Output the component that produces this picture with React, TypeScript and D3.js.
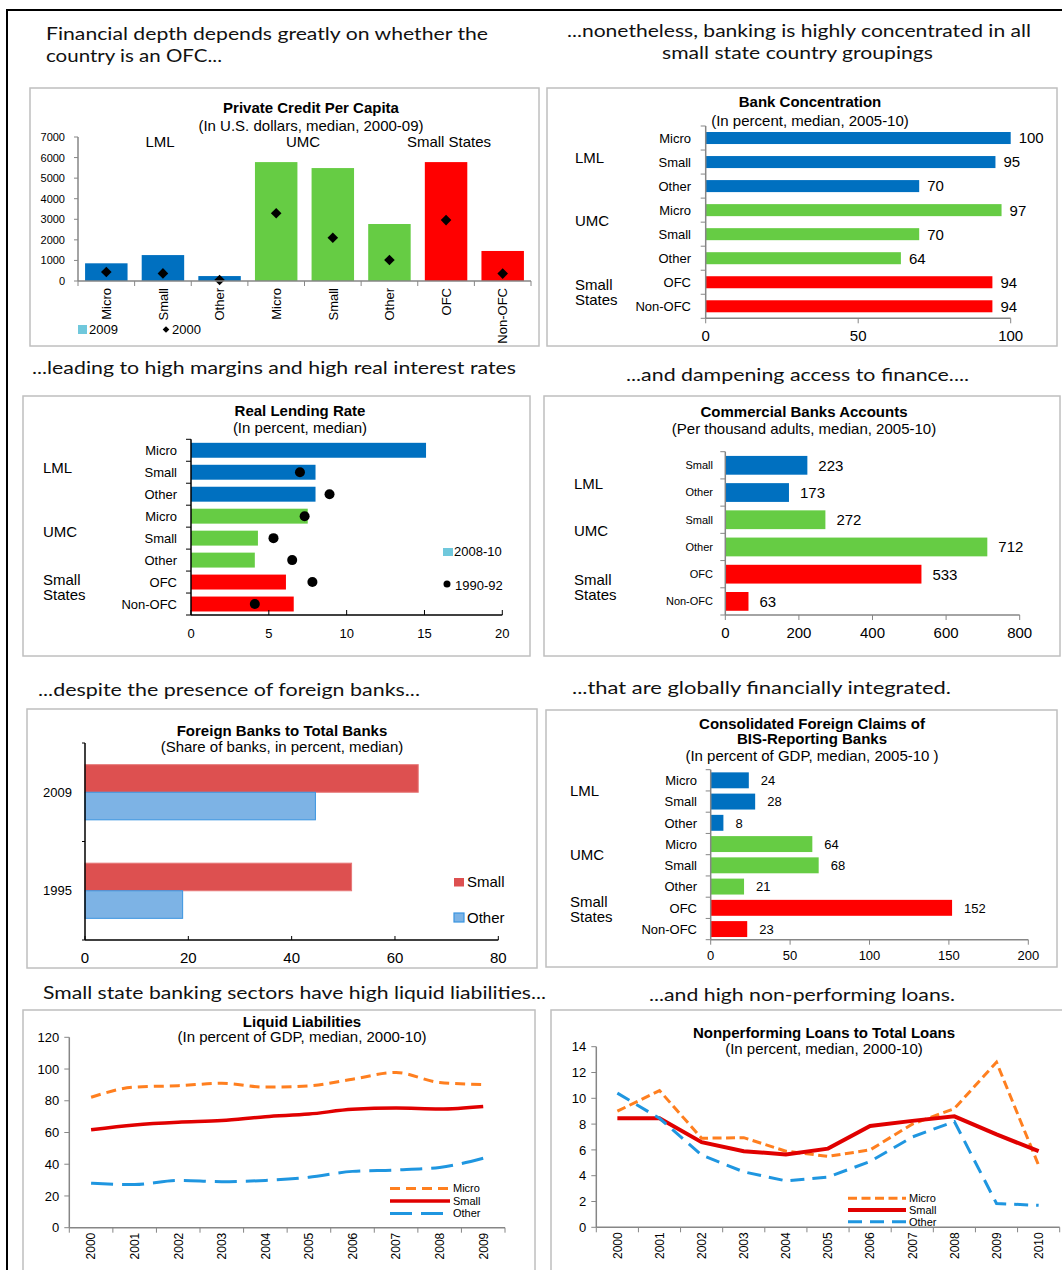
import React from 'react';
import * as d3 from 'd3';

const BLUE = '#0070C0';
const GREEN = '#66CC44';
const RED = '#FF0000';
const FONT = 'Liberation Sans, Arial, Helvetica, sans-serif';
const HEAD = 'Lato, Calibri, sans-serif';

// group colours, 8 bar layouts
const groupColors8 = [BLUE, BLUE, BLUE, GREEN, GREEN, GREEN, RED, RED];
const groupColors6 = [BLUE, BLUE, GREEN, GREEN, RED, RED];
const cats8 = ['Micro', 'Small', 'Other', 'Micro', 'Small', 'Other', 'OFC', 'Non-OFC'];

// Private credit per capita
const credit2009 = [860, 1260, 240, 5780, 5490, 2770, 5780, 1460];
const credit2000 = [440, 370, 50, 3290, 2100, 1020, 2960, 360];
const creditTicks = [0, 1000, 2000, 3000, 4000, 5000, 6000, 7000];

// Bank concentration
const concValues = [100, 95, 70, 97, 70, 64, 94, 94];
const concTicks = [0, 50, 100];

// Real lending rate
const rate0810 = [15.1, 8.0, 8.0, 7.5, 4.3, 4.1, 6.1, 6.6];
const rate9092 = [null, 7.0, 8.9, 7.3, 5.3, 6.5, 7.8, 4.1];
const rateTicks = [0, 5, 10, 15, 20];

// Commercial bank accounts
const acctCats = ['Small', 'Other', 'Small', 'Other', 'OFC', 'Non-OFC'];
const acctValues = [223, 173, 272, 712, 533, 63];
const acctTicks = [0, 200, 400, 600, 800];

// Foreign banks
const fbYears = ['2009', '1995'];
const fbSmall = [64.5, 51.6];
const fbOther = [44.6, 18.9];
const fbTicks = [0, 20, 40, 60, 80];

// Consolidated foreign claims
const claimValues = [24, 28, 8, 64, 68, 21, 152, 23];
const claimTicks = [0, 50, 100, 150, 200];

// Liquid liabilities
const liqYears = ['2000', '2001', '2002', '2003', '2004', '2005', '2006', '2007', '2008', '2009'];
const liqMicro = [82.2, 88.6, 89.5, 91.0, 88.6, 89.4, 93.6, 97.8, 91.5, 90.3];
const liqSmall = [61.8, 64.8, 66.5, 67.5, 70.0, 71.6, 74.6, 75.4, 74.8, 76.4];
const liqOther = [28.0, 27.2, 29.8, 29.0, 29.8, 31.8, 35.5, 36.4, 38.0, 43.8];
const liqTicks = [0, 20, 40, 60, 80, 100, 120];

// Nonperforming loans
const npYears = ['2000', '2001', '2002', '2003', '2004', '2005', '2006', '2007', '2008', '2009', '2010'];
const npMicro = [9.0, 10.6, 6.9, 6.95, 5.9, 5.5, 6.0, 8.0, 9.2, 12.8, 4.8];
const npSmall = [8.45, 8.45, 6.6, 5.9, 5.65, 6.1, 7.85, 8.25, 8.6, 7.2, 5.9];
const npOther = [10.4, 8.45, 5.6, 4.3, 3.6, 3.9, 5.1, 7.0, 8.2, 1.85, 1.7];
const npTicks = [0, 2, 4, 6, 8, 10, 12, 14];

const Panel = ({ x, y, w, h }) => (
  <rect x={x} y={y} width={w} height={h} fill="#fff" stroke="#BFBFBF" strokeWidth={1.5} />
);

const Heading = ({ x, y, w, text, anchor = 'start' }) => (
  <text x={x} y={y} fontFamily={HEAD} fontSize={18} fill="#111" textAnchor={anchor}
    textLength={w} lengthAdjust="spacingAndGlyphs">{text}</text>
);

const Title = ({ cx, lines, sub }) => (
  <g fontFamily={FONT} textAnchor="middle" fill="#000">
    {lines.map((l, i) => (
      <text key={i} x={cx} y={l.y} fontSize={15} fontWeight="bold">{l.t}</text>
    ))}
    <text x={cx} y={sub.y} fontSize={15}>{sub.t}</text>
  </g>
);

const Groups = ({ x, items, size = 15 }) => (
  <g fontFamily={FONT} fontSize={size} fill="#000">
    {items.map((g, i) => g.lines.map((l, j) => (
      <text key={i + '-' + j} x={x} y={g.y + j * 15}>{l}</text>
    )))}
  </g>
);

// generic horizontal bar chart
function HBars(p) {
  const x = d3.scaleLinear().domain([0, p.xMax]).range([p.x0, p.x1]);
  const n = p.cats.length;
  const y = d3.scaleBand().domain(d3.range(n)).range([p.y0, p.y1])
    .paddingInner(p.padding).paddingOuter(p.padding / 2);
  const step = y.step();
  return (
    <g fontFamily={FONT}>
      {p.values.map((v, i) => (
        <rect key={i} x={x(0)} y={y(i)} width={x(v) - x(0)} height={y.bandwidth()} fill={p.colors[i]} />
      ))}
      {p.dots && p.dots.map((v, i) => v == null ? null : (
        <circle key={'d' + i} cx={x(v)} cy={y(i) + y.bandwidth() / 2} r={5} fill="#000" />
      ))}
      {p.labels && p.values.map((v, i) => (
        <text key={'l' + i} x={x(v) + p.labelGap} y={y(i) + y.bandwidth() / 2} dy="0.36em"
          fontSize={p.labelSize}>{v}</text>
      ))}
      {p.cats.map((c, i) => (
        <text key={'c' + i} x={p.catX} y={y(i) + y.bandwidth() / 2} dy="0.36em"
          fontSize={p.catSize} textAnchor="end">{c}</text>
      ))}
      <line x1={x(0)} x2={x(0)} y1={p.y0} y2={p.y1} stroke={p.axisColor} strokeWidth={1.5} />
      {d3.range(n + 1).map(i => (
        <line key={'t' + i} x1={x(0) - 5} x2={x(0)} y1={p.y0 + i * step} y2={p.y0 + i * step}
          stroke={p.axisColor} />
      ))}
      <line x1={x(0)} x2={p.x1} y1={p.y1} y2={p.y1} stroke={p.axisColor} strokeWidth={1.5} />
      {p.xTicks.map(t => (
        <g key={'x' + t}>
          <line x1={x(t)} x2={x(t)} y1={p.y1} y2={p.y1 + p.tickDir * 5} stroke={p.axisColor} />
          <text x={x(t)} y={p.tickY} fontSize={p.tickSize} textAnchor="middle">{t}</text>
        </g>
      ))}
    </g>
  );
}

function CreditChart() {
  const x = d3.scaleBand().domain(d3.range(8)).range([78, 531]).paddingInner(0.25).paddingOuter(0.125);
  const y = d3.scaleLinear().domain([0, 7000]).range([281, 137]);
  const diamond = d3.symbol(d3.symbolSquare, 56)();
  const smallDiamond = d3.symbol(d3.symbolSquare, 22)();
  return (
    <g fontFamily={FONT}>
      <Title cx={311} lines={[{ t: 'Private Credit Per Capita', y: 113 }]} sub={{ t: '(In U.S. dollars, median, 2000-09)', y: 131 }} />
      <g fontSize={15}>
        <text x={160} y={147} textAnchor="middle">LML</text>
        <text x={303} y={147} textAnchor="middle">UMC</text>
        <text x={449} y={147} textAnchor="middle">Small States</text>
      </g>
      {credit2009.map((v, i) => (
        <rect key={i} x={x(i)} y={y(v)} width={x.bandwidth()} height={y(0) - y(v)} fill={groupColors8[i]} />
      ))}
      {credit2000.map((v, i) => (
        <path key={'m' + i} d={diamond}
          transform={`translate(${x(i) + x.bandwidth() / 2},${y(v)}) rotate(45)`} fill="#000" />
      ))}
      <line x1={78} x2={78} y1={y(7000)} y2={y(0)} stroke="#868686" strokeWidth={1.5} />
      {creditTicks.map(t => (
        <g key={t}>
          <line x1={74} x2={78} y1={y(t)} y2={y(t)} stroke="#868686" />
          <text x={65} y={y(t)} dy="0.36em" fontSize={11} textAnchor="end">{t}</text>
        </g>
      ))}
      <line x1={78} x2={531} y1={y(0)} y2={y(0)} stroke="#868686" strokeWidth={1.5} />
      {d3.range(9).map(i => (
        <line key={'xt' + i} x1={78 + i * x.step()} x2={78 + i * x.step()} y1={y(0)} y2={y(0) + 5} stroke="#868686" />
      ))}
      {cats8.map((c, i) => (
        <text key={'c' + i} transform={`translate(${x(i) + x.bandwidth() / 2},288) rotate(-90)`}
          textAnchor="end" dy="0.36em" fontSize={13}>{c}</text>
      ))}
      <rect x={78} y={325} width={9} height={9} fill="#70C8DC" />
      <text x={89} y={334} fontSize={13}>2009</text>
      <path d={smallDiamond} transform="translate(166,329.5) rotate(45)" fill="#000" />
      <text x={172} y={334} fontSize={13}>2000</text>
    </g>
  );
}

function LineChart(p) {
  const x = d3.scalePoint().domain(p.years).range([p.x0, p.x1]).padding(0.5);
  const y = d3.scaleLinear().domain([0, p.yMax]).range([p.y0, p.y1]);
  const line = d3.line().x((d, i) => x(p.years[i])).y(d => y(d)).curve(p.curve);
  const step = x.step();
  return (
    <g fontFamily={FONT}>
      <line x1={p.x0} x2={p.x0} y1={p.y1} y2={p.y0} stroke="#868686" strokeWidth={1.5} />
      {p.ticks.map(t => (
        <g key={t}>
          <line x1={p.x0 - 5} x2={p.x0} y1={y(t)} y2={y(t)} stroke="#868686" />
          <text x={p.x0 - 10} y={y(t)} dy="0.36em" fontSize={13} textAnchor="end">{t}</text>
        </g>
      ))}
      <line x1={p.x0} x2={p.x1} y1={p.y0} y2={p.y0} stroke="#868686" strokeWidth={1.5} />
      {d3.range(p.years.length + 1).map(i => (
        <line key={'xt' + i} x1={p.x0 + i * step} x2={p.x0 + i * step} y1={p.y0} y2={p.y0 + 5} stroke="#868686" />
      ))}
      {p.years.map(yr => (
        <text key={yr} transform={`translate(${x(yr)},${p.y0 + 5}) rotate(-90)`} textAnchor="end"
          dy="0.36em" fontSize={12}>{yr}</text>
      ))}
      {p.series.map((s, i) => (
        <path key={i} d={line(s.values)} fill="none" stroke={s.color} strokeWidth={s.width}
          strokeDasharray={s.dash} />
      ))}
      {p.series.map((s, i) => (
        <g key={'lg' + i}>
          <line x1={p.legX} x2={p.legX + p.legW} y1={p.legY + i * p.legStep} y2={p.legY + i * p.legStep}
            stroke={s.color} strokeWidth={s.width} strokeDasharray={s.dash} />
          <text x={p.legX + p.legW + 3} y={p.legY + i * p.legStep} dy="0.36em" fontSize={p.legSize}>{s.name}</text>
        </g>
      ))}
    </g>
  );
}

function ForeignChart() {
  const x = d3.scaleLinear().domain([0, 80]).range([85, 498.3]);
  const y = d3.scaleBand().domain(fbYears).range([743, 940]).paddingInner(0.44).paddingOuter(0.22);
  const sub = d3.scaleBand().domain(['Small', 'Other']).range([0, y.bandwidth()]);
  return (
    <g fontFamily={FONT}>
      <Title cx={282} lines={[{ t: 'Foreign Banks to Total Banks', y: 736 }]} sub={{ t: '(Share of banks, in percent, median)', y: 752 }} />
      {fbYears.map((yr, i) => (
        <g key={yr}>
          <rect x={x(0)} y={y(yr) + sub('Small')} width={x(fbSmall[i]) - x(0)} height={sub.bandwidth()}
            fill="#DD5050" stroke="#E67878" strokeWidth={1} />
          <rect x={x(0)} y={y(yr) + sub('Other')} width={x(fbOther[i]) - x(0)} height={sub.bandwidth()}
            fill="#7DB3E5" stroke="#3A94E0" strokeWidth={1} />
          <text x={72} y={y(yr) + y.bandwidth() / 2} dy="0.36em" fontSize={13} textAnchor="end">{yr}</text>
        </g>
      ))}
      <line x1={85} x2={85} y1={743} y2={940} stroke="#000" strokeWidth={1.5} />
      {[743, 841.5, 940].map(t => (
        <line key={t} x1={82} x2={85} y1={t} y2={t} stroke="#000" />
      ))}
      <line x1={85} x2={498.3} y1={940} y2={940} stroke="#000" strokeWidth={1.5} />
      {fbTicks.map(t => (
        <g key={t}>
          <line x1={x(t)} x2={x(t)} y1={940} y2={936} stroke="#000" />
          <text x={x(t)} y={963} fontSize={15} textAnchor="middle">{t}</text>
        </g>
      ))}
      <rect x={454} y={878} width={10} height={8.5} fill="#DD5050" />
      <text x={467} y={887} fontSize={15}>Small</text>
      <rect x={454} y={913} width={10} height={9} fill="#7DB3E5" stroke="#3A94E0" strokeWidth={1.2} />
      <text x={467} y={923} fontSize={15}>Other</text>
    </g>
  );
}

export default function App() {
  return (
    <svg width={1062} height={1270} style={{ position: 'absolute', left: 0, top: 0, display: 'block', background: '#fff' }}>
      <rect x={0} y={0} width={1062} height={1270} fill="#fff" />
      <line x1={7} x2={1062} y1={10} y2={10} stroke="#000" strokeWidth={2} />
      <line x1={7} x2={7} y1={9} y2={1270} stroke="#000" strokeWidth={2} />

      <Heading x={46} y={40} w={442} text="Financial depth depends greatly on whether the" />
      <Heading x={46} y={62} w={176} text="country is an OFC..." />
      <Heading x={567} y={37} w={464} text="...nonetheless, banking is highly concentrated in all" />
      <Heading x={662} y={59} w={271} text="small state country groupings" />
      <Heading x={32} y={374} w={484} text="...leading to high margins and high real interest rates" />
      <Heading x={626} y={381} w={343} text="...and dampening access to finance...." />
      <Heading x={38} y={696} w={382} text="...despite the presence of foreign banks..." />
      <Heading x={572} y={694} w={379} text="...that are globally financially integrated." />
      <Heading x={43} y={999} w={503} text="Small state banking sectors have high liquid liabilities..." />
      <Heading x={649} y={1001} w={306} text="...and high non-performing loans." />

      <Panel x={30} y={88} w={509} h={258} />
      <Panel x={547} y={88} w={510} h={258} />
      <Panel x={23} y={396} w={507} h={260} />
      <Panel x={544} y={396} w={516} h={260} />
      <Panel x={27} y={709} w={510} h={259} />
      <Panel x={546} y={710} w={511} h={257} />
      <Panel x={23} y={1010} w={512} h={270} />
      <Panel x={551} y={1010} w={520} h={270} />

      <CreditChart />

      <Title cx={810} lines={[{ t: 'Bank Concentration', y: 107 }]} sub={{ t: '(In percent, median, 2005-10)', y: 126 }} />
      <HBars cats={cats8} values={concValues} colors={groupColors8} xMax={100} xTicks={concTicks}
        x0={705.7} x1={1010.7} y0={126} y1={318.3} padding={0.5} catX={691} catSize={13}
        tickY={341} tickSize={15} tickDir={1} labels labelSize={15} labelGap={8} axisColor="#868686" />
      <Groups x={575} items={[{ lines: ['LML'], y: 163 }, { lines: ['UMC'], y: 226 }, { lines: ['Small', 'States'], y: 290 }]} />

      <Title cx={300} lines={[{ t: 'Real Lending Rate', y: 416 }]} sub={{ t: '(In percent, median)', y: 433 }} />
      <HBars cats={cats8} values={rate0810} colors={groupColors8} xMax={20} xTicks={rateTicks}
        x0={191} x1={502.3} y0={439.3} y1={615} padding={0.32} catX={177} catSize={13}
        tickY={638} tickSize={13} tickDir={-1} dots={rate9092} axisColor="#000" />
      <Groups x={43} items={[{ lines: ['LML'], y: 473 }, { lines: ['UMC'], y: 537 }, { lines: ['Small', 'States'], y: 585 }]} />
      <g fontFamily={FONT} fontSize={13}>
        <rect x={443} y={548} width={10} height={8} fill="#70C8DC" />
        <text x={454} y={556}>2008-10</text>
        <circle cx={447} cy={584} r={3.5} fill="#000" />
        <text x={455} y={590}>1990-92</text>
      </g>

      <Title cx={804} lines={[{ t: 'Commercial Banks Accounts', y: 417 }]} sub={{ t: '(Per thousand adults, median, 2005-10)', y: 434 }} />
      <HBars cats={acctCats} values={acctValues} colors={groupColors6} xMax={800} xTicks={acctTicks}
        x0={725.3} x1={1019.7} y0={451.7} y1={615} padding={0.31} catX={713} catSize={11}
        tickY={638} tickSize={15} tickDir={1} labels labelSize={15} labelGap={11} axisColor="#868686" />
      <Groups x={574} items={[{ lines: ['LML'], y: 489 }, { lines: ['UMC'], y: 536 }, { lines: ['Small', 'States'], y: 585 }]} />

      <ForeignChart />

      <Title cx={812} lines={[{ t: 'Consolidated Foreign Claims of', y: 729 }, { t: 'BIS-Reporting Banks', y: 744 }]}
        sub={{ t: '(In percent of GDP, median, 2005-10 )', y: 761 }} />
      <HBars cats={cats8} values={claimValues} colors={groupColors8} xMax={200} xTicks={claimTicks}
        x0={710.7} x1={1028.3} y0={769.7} y1={939.7} padding={0.25} catX={697} catSize={13}
        tickY={960} tickSize={13} tickDir={1} labels labelSize={13} labelGap={12} axisColor="#868686" />
      <Groups x={570} items={[{ lines: ['LML'], y: 796 }, { lines: ['UMC'], y: 860 }, { lines: ['Small', 'States'], y: 907 }]} />

      <Title cx={302} lines={[{ t: 'Liquid Liabilities', y: 1027 }]} sub={{ t: '(In percent of GDP, median, 2000-10)', y: 1042 }} />
      <LineChart years={liqYears} x0={69.3} x1={505} y0={1227.7} y1={1037.3} yMax={120} ticks={liqTicks}
        curve={d3.curveMonotoneX}
        series={[
          { name: 'Micro', values: liqMicro, color: '#FF7F1F', width: 3, dash: '10,6' },
          { name: 'Small', values: liqSmall, color: '#E00000', width: 3.5, dash: null },
          { name: 'Other', values: liqOther, color: '#1F96E0', width: 3, dash: '22,9' },
        ]}
        legX={390} legW={60} legY={1188.5} legStep={12.5} legSize={11} />

      <Title cx={824} lines={[{ t: 'Nonperforming Loans to Total Loans', y: 1038 }]} sub={{ t: '(In percent, median, 2000-10)', y: 1054 }} />
      <LineChart years={npYears} x0={596.3} x1={1059.7} y0={1227.3} y1={1046.7} yMax={14} ticks={npTicks}
        curve={d3.curveLinear}
        series={[
          { name: 'Micro', values: npMicro, color: '#FF7F1F', width: 3, dash: '9,4.5' },
          { name: 'Small', values: npSmall, color: '#E00000', width: 4, dash: null },
          { name: 'Other', values: npOther, color: '#1F96E0', width: 3, dash: '14,8' },
        ]}
        legX={848} legW={58} legY={1198.3} legStep={11.7} legSize={11} />
    </svg>
  );
}
